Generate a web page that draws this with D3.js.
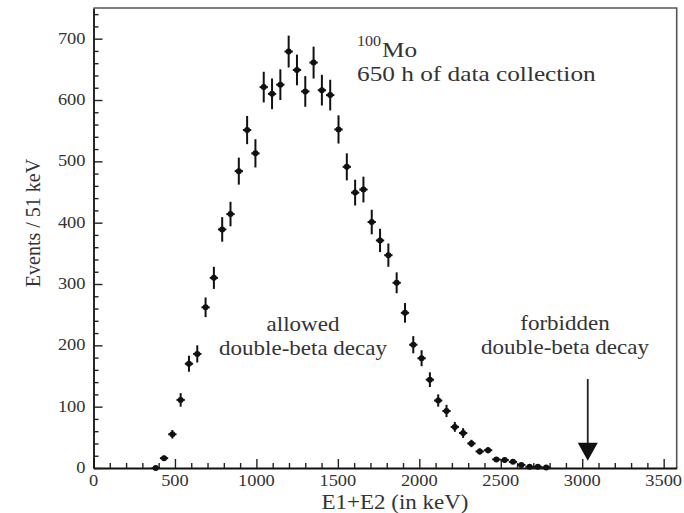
<!DOCTYPE html>
<html>
<head>
<meta charset="utf-8">
<script src="https://cdn.jsdelivr.net/npm/d3@7"></script>
<style>
  body { margin: 0; background: #fff; }
  svg text { font-family: "Liberation Serif", "Times New Roman", serif; fill: #333; }
</style>
</head>
<body>
<svg width="684" height="513"></svg>
<script>
// bin centres (keV), 51 keV wide bins
var energies = [382, 433, 484, 535, 586, 637, 688, 739, 790, 841, 892, 943,
  994, 1045, 1096, 1147, 1198, 1249, 1300, 1351, 1402, 1453, 1504, 1555,
  1606, 1657, 1708, 1759, 1810, 1861, 1912, 1963, 2014, 2065, 2116, 2167,
  2218, 2269, 2320, 2371, 2422, 2473, 2524, 2575, 2626, 2677, 2728, 2779];

var events = [0, 16, 55, 111, 170, 186, 262, 310, 389, 414, 484, 551,
  513, 621, 610, 625, 679, 649, 614, 661, 616, 608, 552, 491,
  449, 454, 401, 371, 347, 302, 253, 201, 179, 144, 110, 93,
  67, 57, 40, 27, 29, 14, 13, 10, 5, 2, 2, 1];

var errors = [0, 4, 7, 11, 13, 14, 16, 18, 20, 20, 22, 23,
  23, 25, 25, 25, 26, 25, 25, 26, 25, 25, 23, 22,
  21, 21, 20, 19, 19, 17, 16, 14, 13, 12, 10, 10,
  8, 8, 6, 5, 5, 4, 4, 3, 2, 1, 1, 1];

var xTicks = [0, 500, 1000, 1500, 2000, 2500, 3000, 3500];
var yTicks = [0, 100, 200, 300, 400, 500, 600, 700];

var binWidth = 51;
var qValue = 3034;        // forbidden 0nu double-beta endpoint
var arrowFrom = 145, arrowTo = 12;

function drawChart() {
  var svg = d3.select("svg");
  var pLeft = 93.5, pRight = 676.7, pTop = 8, pBottom = 468;

  var x = d3.scaleLinear().domain([0, 3580]).range([pLeft, pRight]);
  var y = d3.scaleLinear().domain([0, 750]).range([pBottom, pTop]);

  var stretch = 1.15;  // the scanned text is a bit wide

  // frame (top/right are plain lines)
  svg.append("path")
      .attr("d", "M" + pLeft + "," + pTop + "H" + pRight + "V" + pBottom)
      .attr("fill", "none")
      .attr("stroke", "#555")
      .attr("stroke-width", 1.6);

  // x axis, ticks pointing up into the plot
  var xAxis = svg.append("g").attr("transform", "translate(0," + pBottom + ")");
  xAxis.call(d3.axisTop(x).tickValues(d3.range(0, 3580, 100)).tickSize(5).tickSizeOuter(0).tickFormat(""));
  xAxis.selectAll(".tick").filter(function(d) { return xTicks.indexOf(d) >= 0; })
      .select("line").attr("y2", -9);

  var yAxis = svg.append("g").attr("transform", "translate(" + pLeft + ",0)");
  yAxis.call(d3.axisRight(y).tickValues(d3.range(0, 750, 20)).tickSize(5).tickSizeOuter(0).tickFormat(""));
  yAxis.selectAll(".tick").filter(function(d) { return yTicks.indexOf(d) >= 0; })
      .select("line").attr("x2", 9);

  svg.selectAll(".domain").attr("stroke", "#111").attr("stroke-width", 1.8);
  svg.selectAll(".tick line").attr("stroke", "#222").attr("stroke-width", 1.4);

  // tick labels
  svg.selectAll(".xlab")
      .data(xTicks)
    .enter().append("text")
      .attr("class", "xlab")
      .attr("text-anchor", "middle")
      .attr("font-size", 16)
      .attr("transform", function(d) { return "translate(" + x(d) + "," + (pBottom + 18) + ") scale(" + stretch + ",1)"; })
      .text(function(d) { return d; });

  svg.selectAll(".ylab")
      .data(yTicks)
    .enter().append("text")
      .attr("class", "ylab")
      .attr("text-anchor", "end")
      .attr("font-size", 16)
      .attr("transform", function(d) { return "translate(" + (pLeft - 8) + "," + (y(d) + 5) + ") scale(" + stretch + ",1)"; })
      .text(function(d) { return d; });

  // axis titles
  svg.append("text")
      .attr("text-anchor", "middle")
      .attr("font-size", 20)
      .attr("transform", "translate(395,509) scale(" + stretch + ",1)")
      .text("E1+E2 (in keV)");

  svg.append("text")
      .attr("text-anchor", "middle")
      .attr("font-size", 20)
      .attr("transform", "translate(40,223) rotate(-90)")
      .text("Events / 51 keV");

  // data points with error bars
  var pts = svg.selectAll(".pt")
      .data(energies.map(function(e, i) { return { e: e, n: events[i], err: errors[i] }; }))
    .enter().append("g")
      .attr("class", "pt");

  pts.append("line")
      .attr("x1", function(d) { return x(d.e - binWidth / 2); })
      .attr("x2", function(d) { return x(d.e + binWidth / 2); })
      .attr("y1", function(d) { return y(d.n); })
      .attr("y2", function(d) { return y(d.n); })
      .attr("stroke", "#111").attr("stroke-width", 2);

  pts.append("line")
      .attr("x1", function(d) { return x(d.e); })
      .attr("x2", function(d) { return x(d.e); })
      .attr("y1", function(d) { return y(d.n - d.err); })
      .attr("y2", function(d) { return y(d.n + d.err); })
      .attr("stroke", "#111").attr("stroke-width", 2);

  pts.append("circle")
      .attr("cx", function(d) { return x(d.e); })
      .attr("cy", function(d) { return y(d.n); })
      .attr("r", 3)
      .attr("fill", "#111");

  // annotations
  function label(txt, px, py, size, anchor) {
    return svg.append("text")
        .attr("text-anchor", anchor || "middle")
        .attr("font-size", size)
        .attr("transform", "translate(" + px + "," + py + ") scale(" + stretch + ",1)")
        .text(txt);
  }

  label("100", 357, 46, 14, "start");
  label("Mo", 382, 57, 22, "start");
  label("650 h of data collection", 357, 81, 22, "start");
  label("allowed", 303, 331, 20);
  label("double-beta decay", 303, 355, 20);
  label("forbidden", 565, 330, 20);
  label("double-beta decay", 565, 354, 20);

  // arrow at the Q value
  svg.append("line")
      .attr("x1", x(qValue)).attr("x2", x(qValue))
      .attr("y1", y(arrowFrom)).attr("y2", y(arrowTo) - 12)
      .attr("stroke", "#222").attr("stroke-width", 1.8);

  svg.append("path")
      .attr("d", "M" + (x(qValue) - 10) + "," + (y(arrowTo) - 18) +
                 "L" + (x(qValue) + 10) + "," + (y(arrowTo) - 18) +
                 "L" + x(qValue) + "," + y(arrowTo) + "Z")
      .attr("fill", "#111");
}

drawChart();
</script>
</body>
</html>
